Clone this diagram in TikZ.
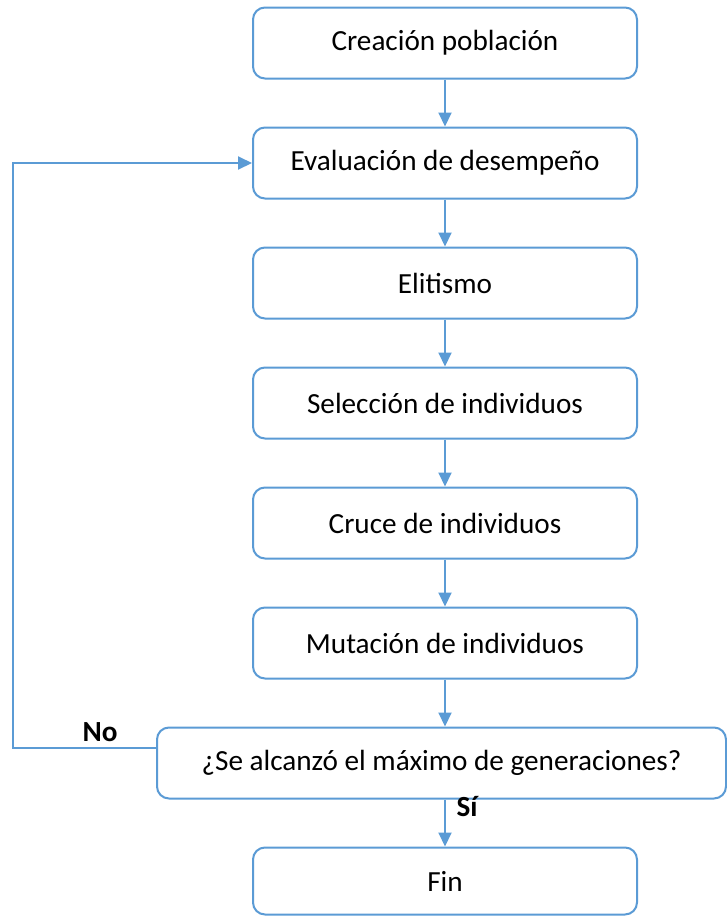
\documentclass[tikz,border=0pt]{standalone}
\usepackage{fontspec}
\setmainfont{Carlito}
\usepackage{xcolor}
\usepackage{tikz}
\usetikzlibrary{arrows.meta, positioning}
\definecolor{flowBlue}{RGB}{91, 155, 213}

\begin{document}
\begin{tikzpicture}[node distance=23.5pt,
    stepbox/.style={rectangle, rounded corners=6pt, draw=flowBlue, line width=1pt, fill=white, minimum width=192pt, minimum height=35.5pt, font=\fontsize{14.6}{17}\selectfont, text centered},
    flow/.style={-{Triangle[width=6.5pt,length=7pt]}, draw=flowBlue, line width=1pt},
    answer/.style={font=\fontsize{14.6}{17}\selectfont\bfseries}]

    \useasboundingbox (0,0) rectangle (363.5pt,-458.5pt);

    \node (crea) [stepbox] at (222.5pt,-21.5pt) {Creación población};
    \node (eval) [stepbox, below=of crea] {Evaluación de desempeño};
    \node (elit) [stepbox, below=of eval] {Elitismo};
    \node (sel) [stepbox, below=of elit] {Selección de individuos};
    \node (cruce) [stepbox, below=of sel] {Cruce de individuos};
    \node (mut) [stepbox, below=of cruce] {Mutación de individuos};
    \node (gen) [stepbox, minimum width=284.5pt, below=of mut, xshift=-1.75pt] {¿Se alcanzó el máximo de generaciones?};
    \node (fin) [stepbox, minimum height=33.5pt, below=of gen, xshift=1.75pt] {Fin};

    \draw[flow] (crea) -- (eval);
    \draw[flow] (eval) -- (elit);
    \draw[flow] (elit) -- (sel);
    \draw[flow] (sel) -- (cruce);
    \draw[flow] (cruce) -- (mut);
    \draw[flow] (mut.south) -- (mut.south |- gen.north);
    \draw[flow] (fin.north |- gen.south) -- (fin.north) node[answer, pos=0.15, right=2pt] {Sí};

    % loop back when the limit is not reached
    \coordinate (back) at (6.5pt,-374pt);
    \draw[flow] (gen.west |- back) -- (back) |- (eval.west);
    \node (no) [answer] at (50pt,-366pt) {No};

\end{tikzpicture}
\end{document}
